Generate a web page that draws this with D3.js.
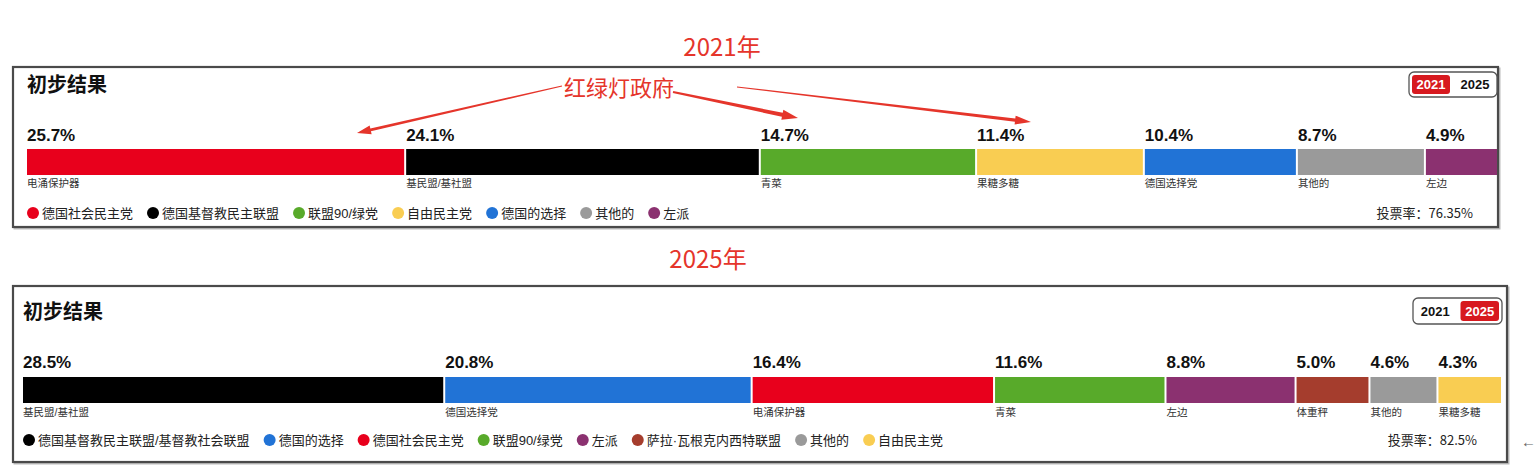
<!DOCTYPE html>
<html><head><meta charset="utf-8">
<script src="https://cdn.jsdelivr.net/npm/d3@7"></script>
<style>
body{margin:0;background:#fff;}
text{font-family:"Liberation Sans","Noto Sans CJK SC",sans-serif;}
.cjk{font-family:"Noto Sans CJK SC",sans-serif;}
</style></head>
<body><svg id="c" width="1537" height="475"></svg>
<script>
// ---- data ----
const years = ["2021", "2025"];
const turnout = ["76.35%", "82.5%"];
const title = "初步结果";
const partyKeys = ["SPD","CDU","GRUENE","FDP","AFD","OTHER","LINKE","BSW"];
const partyColors = ["#e8001c","#000000","#58aa2a","#f9cd52","#2173d6","#9a9a9a","#8b3170","#a53d2d"];

const parties2021 = ["SPD","CDU","GRUENE","FDP","AFD","OTHER","LINKE"];
const values2021 = [25.7, 24.1, 14.7, 11.4, 10.4, 8.7, 4.9];
const barLabels2021 = ["电涌保护器","基民盟/基社盟","青菜","果糖多糖","德国选择党","其他的","左边"];
const legendKeys2021 = ["SPD","CDU","GRUENE","FDP","AFD","OTHER","LINKE"];
const legendNames2021 = ["德国社会民主党","德国基督教民主联盟","联盟90/绿党","自由民主党","德国的选择","其他的","左派"];

const parties2025 = ["CDU","AFD","SPD","GRUENE","LINKE","BSW","OTHER","FDP"];
const values2025 = [28.5, 20.8, 16.4, 11.6, 8.8, 5.0, 4.6, 4.3];
const barLabels2025 = ["基民盟/基社盟","德国选择党","电涌保护器","青菜","左边","体重秤","其他的","果糖多糖"];
const legendKeys2025 = ["CDU","AFD","SPD","GRUENE","LINKE","BSW","OTHER","FDP"];
const legendNames2025 = ["德国基督教民主联盟/基督教社会联盟","德国的选择","德国社会民主党","联盟90/绿党","左派","萨拉·瓦根克内西特联盟","其他的","自由民主党"];

const annotYears = ["2021年","2025年"];
const annotNote = "红绿灯政府";

// ---- drawing ----
const color = d3.scaleOrdinal().domain(partyKeys).range(partyColors);
const svg = d3.select("#c");
const RED = "#e5352b";

const panels = [
  {parties:parties2021, values:values2021, labels:barLabels2021, lkeys:legendKeys2021, lnames:legendNames2021,
   box:[13,67,1485,160], range:[27,1497], barY:149, pctY:141, subY:187, legY:213, titleX:27, titleY:92,
   tog:[1409,72,88,25], active:0, turnX:1473, turnY:218},
  {parties:parties2025, values:values2025, labels:barLabels2025, lkeys:legendKeys2025, lnames:legendNames2025,
   box:[13,286,1494,176], range:[23,1501], barY:377, pctY:368, subY:416, legY:440, titleX:23, titleY:319,
   tog:[1413,298,89,26], active:1, turnX:1477, turnY:445}
];

panels.forEach((p, pi) => {
  const g = svg.append("g");
  g.append("rect").attr("x",p.box[0]+1.5).attr("y",p.box[1]+1.5).attr("width",p.box[2]).attr("height",p.box[3])
    .attr("fill","none").attr("stroke","#bbb").attr("stroke-width",2);
  g.append("rect").attr("x",p.box[0]).attr("y",p.box[1]).attr("width",p.box[2]).attr("height",p.box[3])
    .attr("fill","#fff").attr("stroke","#4a4a4a").attr("stroke-width",2.2);
  g.append("text").attr("class","cjk").attr("x",p.titleX).attr("y",p.titleY)
    .attr("font-size",20).attr("font-weight",700).attr("fill","#111").text(title);

  // toggle
  const [tx,ty,tw,th] = p.tog;
  g.append("rect").attr("x",tx).attr("y",ty).attr("width",tw).attr("height",th).attr("rx",5)
    .attr("fill","#fff").attr("stroke","#555").attr("stroke-width",1.3);
  const half = tw/2;
  years.forEach((y, yi) => {
    const cx = tx + half*yi + half/2;
    if (yi === p.active) {
      g.append("rect").attr("x",tx + half*yi + 3).attr("y",ty+3).attr("width",half-6).attr("height",th-6)
        .attr("rx",3).attr("fill","#d7191f");
    }
    g.append("text").attr("x",cx).attr("y",ty+th/2+4.7).attr("text-anchor","middle")
      .attr("font-size",13).attr("font-weight",700).attr("fill", yi===p.active?"#fff":"#111").text(y);
  });

  // bar
  const total = d3.sum(p.values);
  const x = d3.scaleLinear().domain([0,total]).range(p.range);
  const cum = d3.cumsum(p.values);
  const segs = p.values.map((v,i)=>({v, k:p.parties[i], lab:p.labels[i], x0: i?cum[i-1]:0, x1:cum[i]}));
  g.selectAll("rect.seg").data(segs).join("rect").attr("class","seg")
    .attr("x",d=>x(d.x0)+(d.x0>0?1:0)).attr("y",p.barY)
    .attr("width",d=>x(d.x1)-x(d.x0)-(d.x0>0?1:0)-(d.x1<total?1:0)).attr("height",26)
    .attr("fill",d=>color(d.k));
  g.selectAll("text.pct").data(segs).join("text").attr("class","pct")
    .attr("x",d=>x(d.x0)+(d.x0>0?1:0)).attr("y",p.pctY)
    .attr("font-size",17).attr("font-weight",700).attr("fill","#111")
    .text(d=>d.v.toFixed(1)+"%");
  g.selectAll("text.sub").data(segs).join("text").attr("class","sub")
    .attr("x",d=>x(d.x0)+(d.x0>0?1:0)).attr("y",p.subY)
    .attr("font-size",10.5).attr("fill","#333").text(d=>d.lab);

  // legend
  let lx = p.titleX;
  p.lkeys.forEach((k,i)=>{
    g.append("circle").attr("cx",lx+6).attr("cy",p.legY).attr("r",6).attr("fill",color(k));
    const t = g.append("text").attr("x",lx+15).attr("y",p.legY+4.5)
      .attr("font-size",13).attr("fill","#222").text(p.lnames[i]);
    lx += 15 + t.node().getComputedTextLength() + 14;
  });

  g.append("text").attr("class","cjk").attr("x",p.turnX).attr("y",p.turnY).attr("text-anchor","end")
    .attr("font-size",13).attr("fill","#222").text("投票率：" + turnout[pi]);
});

// annotations
svg.append("text").attr("class","cjk").attr("x",722).attr("y",56).attr("text-anchor","middle")
  .attr("font-size",24).attr("fill",RED).text(annotYears[0]);
svg.append("text").attr("class","cjk").attr("x",708).attr("y",268).attr("text-anchor","middle")
  .attr("font-size",24).attr("fill",RED).text(annotYears[1]);

function arrow(x1,y1,x2,y2,w0,w1,hl,hw){
  const a = Math.atan2(y2-y1,x2-x1), c=Math.cos(a), s=Math.sin(a);
  const bx = x2 - c*hl, by = y2 - s*hl;
  const nx=-s, ny=c;
  const pts = [
    [x1+nx*w0/2, y1+ny*w0/2],[bx+nx*w1/2, by+ny*w1/2],[bx+nx*hw/2, by+ny*hw/2],[x2,y2],
    [bx-nx*hw/2, by-ny*hw/2],[bx-nx*w1/2, by-ny*w1/2],[x1-nx*w0/2, y1-ny*w0/2]];
  svg.append("polygon").attr("points",pts.map(p=>p.join(",")).join(" ")).attr("fill",RED);
}
arrow(562,86,357,133,1.2,2.6,14,9);
arrow(673,92,798,118,2.2,4,16,10);
arrow(737,87,1031,122,1,3.2,16,9);

svg.append("text").attr("class","cjk").attr("x",619).attr("y",96).attr("text-anchor","middle")
  .attr("font-size",22).attr("fill",RED).text(annotNote);

svg.append("text").attr("x",1521).attr("y",447).attr("font-size",15).attr("fill","#666").text("←");
</script></body></html>
